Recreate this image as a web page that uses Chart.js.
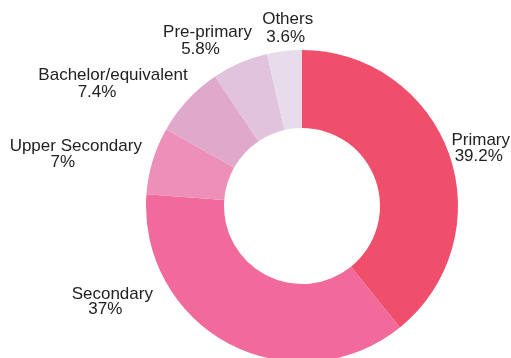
<!DOCTYPE html>
<html>
<head>
<meta charset="utf-8">
<script src="https://cdn.jsdelivr.net/npm/chart.js@4/dist/chart.umd.min.js"></script>
<style>
  html, body { margin: 0; padding: 0; background: #fff; overflow: hidden; }
  #wrap { position: relative; width: 511px; height: 366px; }
</style>
</head>
<body>
<div id="wrap"><canvas id="chart"></canvas></div>
<script>
// Share of enrolment by level of education (%)
const categories = ['Primary', 'Secondary', 'Upper Secondary', 'Bachelor/equivalent', 'Pre-primary', 'Others'];
const shares = [39.2, 37, 7, 7.4, 5.8, 3.6];
const shareLabels = ['39.2%', '37%', '7%', '7.4%', '5.8%', '3.6%'];

const sliceColors = ['#ef4f6b', '#f16a9b', '#ee8fb9', '#e0a9cb', '#e1c3dd', '#e8dbec'];

// Per-label nudges (line 1 and line 2 centres) relative to a point just outside each slice's mid-angle
const labelNudges = [
  [[9, -6], [7, 10]],
  [[-106, -71], [-113, -56]],
  [[-54, -7], [-67, 9]],
  [[-57, -8], [-73, 9]],
  [[-23, -8], [-30, 9]],
  [[6, -8], [4, 10]]
];

const outsideLabels = {
  id: 'outsideLabels',
  afterDatasetsDraw(chart) {
    const ctx = chart.ctx;
    const meta = chart.getDatasetMeta(0);
    ctx.save();
    ctx.font = '17px "Liberation Sans", Arial, sans-serif';
    ctx.fillStyle = '#222';
    ctx.textAlign = 'center';
    ctx.textBaseline = 'middle';
    meta.data.forEach((arc, i) => {
      const p = arc.getProps(['x', 'y', 'startAngle', 'endAngle', 'outerRadius'], true);
      const mid = (p.startAngle + p.endAngle) / 2;
      const r = p.outerRadius + 24;
      const ax = p.x + Math.cos(mid) * r;
      const ay = p.y + Math.sin(mid) * r;
      const n = labelNudges[i];
      ctx.fillText(categories[i], ax + n[0][0], ay + n[0][1]);
      ctx.fillText(shareLabels[i], ax + n[1][0], ay + n[1][1]);
    });
    ctx.restore();
  }
};

new Chart(document.getElementById('chart'), {
  type: 'doughnut',
  data: {
    labels: categories,
    datasets: [{
      data: shares,
      backgroundColor: sliceColors,
      borderWidth: 0,
      hoverOffset: 0
    }]
  },
  options: {
    responsive: true,
    maintainAspectRatio: false,
    animation: false,
    cutout: '50%',
    layout: { padding: { left: 146, right: 53, top: 50, bottom: 4 } },
    plugins: {
      legend: { display: false },
      tooltip: { enabled: false }
    }
  },
  plugins: [outsideLabels]
});
</script>
</body>
</html>
